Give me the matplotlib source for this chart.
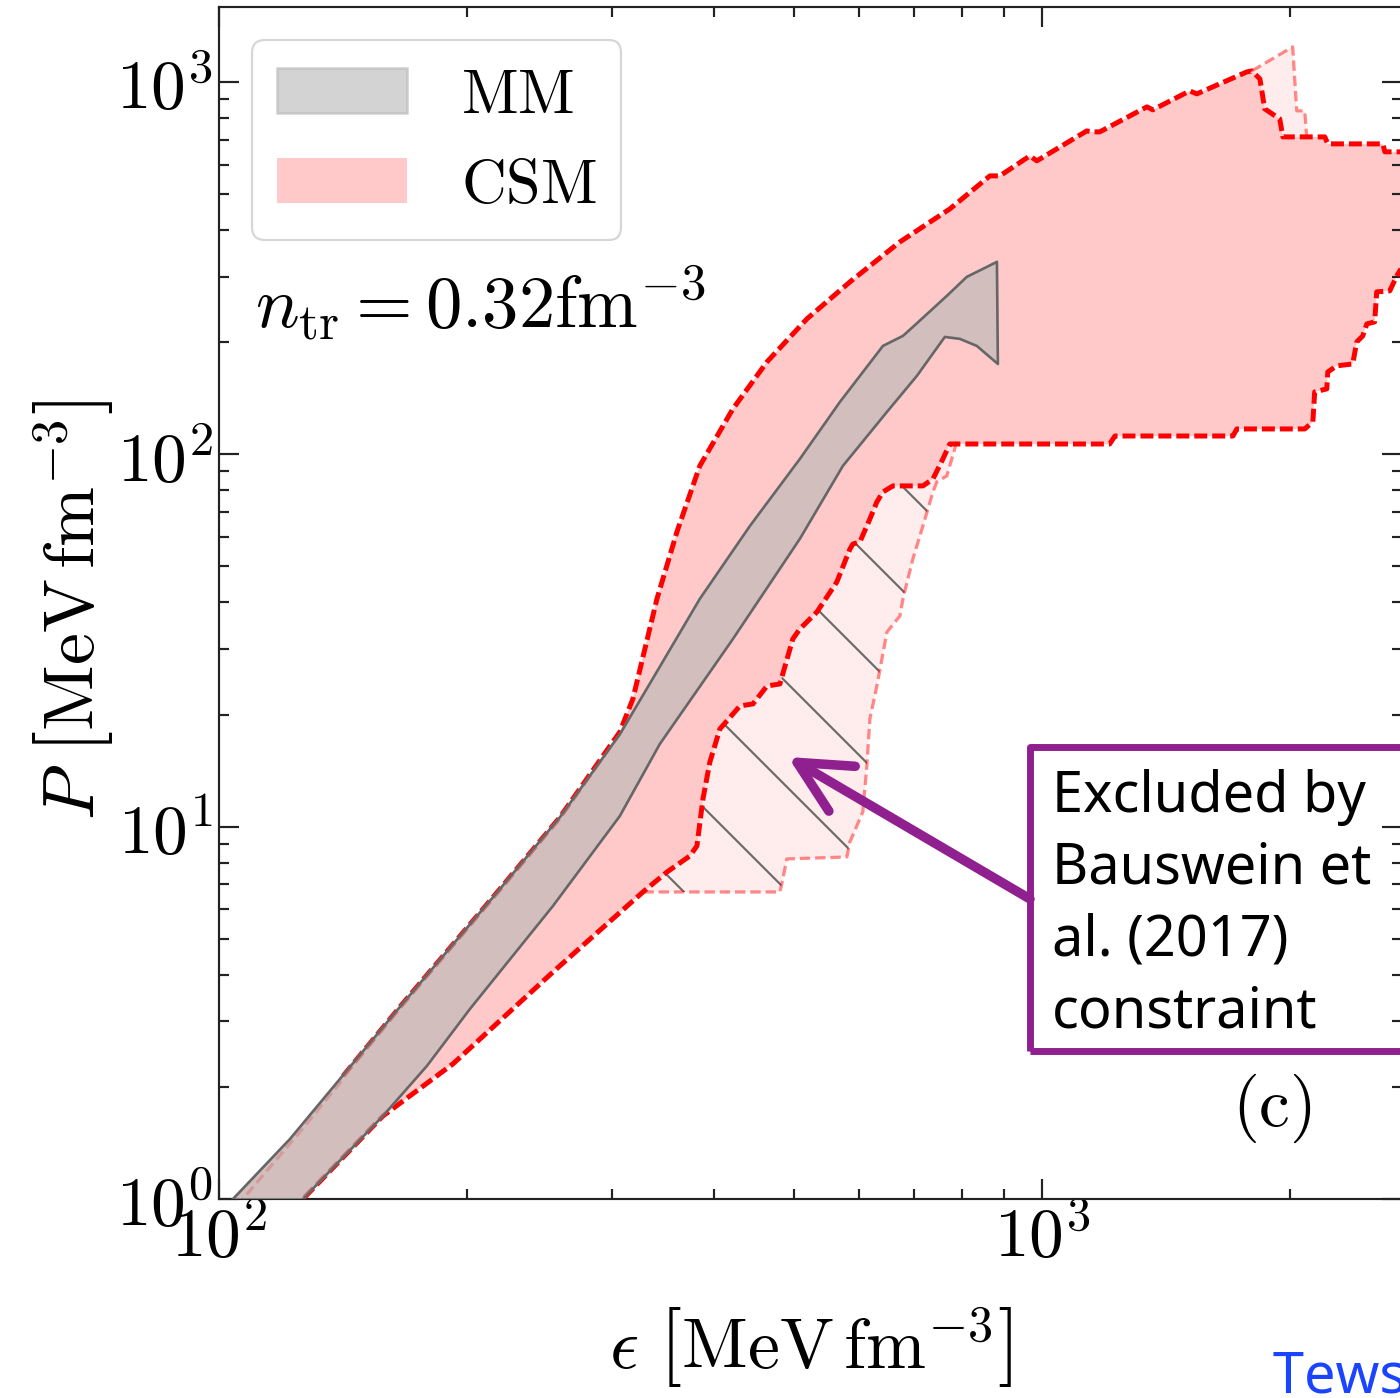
import numpy as np
import matplotlib
matplotlib.use("Agg")
import matplotlib.pyplot as plt
from matplotlib.patches import Polygon, Rectangle, FancyArrowPatch, ArrowStyle
from matplotlib.ticker import LogLocator, FuncFormatter, NullFormatter
from matplotlib.mathtext import MathTextParser

# ---------------------------------------------------------------- data
# MM band (energy density eps [MeV fm^-3], pressure P [MeV fm^-3])
mm_upper_eps = [101.0, 104.0, 122.0, 165.9, 219.5, 259.6, 307.0, 343.4, 384.0, 441.8,
                508.1, 568.3, 641.1, 678.0, 697.2, 766.6, 810.6, 881.9]
mm_upper_P = [0.93, 1.0, 1.45, 3.28, 6.80, 10.6, 17.7, 26.9, 40.9, 64.2,
              97.2, 138.2, 195.5, 208.0, 219.9, 266.4, 299.6, 328.7]
mm_lower_eps = [122.7, 126.5, 158.2, 178.9, 201.8, 254.6, 307.0, 343.4, 421.2, 508.1,
                573.1, 648.3, 704.9, 762.3, 795.1, 833.7, 884.3]
mm_lower_P = [0.93, 1.0, 1.671, 2.276, 3.238, 6.124, 10.68, 16.68, 31.9, 59.3,
              93.1, 130.0, 162.4, 206.7, 204.2, 195.5, 174.9]

# CSM band, upper envelope
csm_upper_eps = [101.0, 104.0, 122.0, 141.5, 165.9, 219.5, 259.6, 307.0, 318.4, 340.6,
                 360.2, 384.0, 421.2, 463.4, 518.2, 584.5, 672.3, 773.0, 864.8, 889.3,
                 967.0, 986.1, 1134, 1153, 1176, 1342, 1364, 1513, 1543, 1775,
                 1800, 1841, 1866, 1946, 1963, 2208, 2226, 2597, 2612, 2880]
csm_upper_P = [0.93, 1.0, 1.45, 2.14, 3.28, 6.80, 10.6, 17.96, 22.03, 40.9,
               61.9, 93.1, 132.4, 177.1, 231.1, 290.4, 372.0, 456.1, 559.6, 559.6,
               633.1, 614.0, 738.9, 734.5, 734.5, 857.5, 841.8, 946.4, 929.0, 1064.4,
               1071, 1019, 846.9, 796.0, 712.1, 712.1, 682.0, 682.0, 649.2, 649.2]
# CSM band, lower envelope
csm_lower_eps = [122.7, 126.5, 158.2, 192.4, 254.6, 327.5, 350.3, 373.5, 380.9, 387.4,
                 395.0, 406.2, 429.7, 445.6, 463.4, 480.5, 498.2, 508.1, 533.0, 563.5,
                 584.5, 589.4, 601.0, 618.1, 630.3, 641.1, 659.2, 717.0, 737.4, 758.2,
                 773.0, 1209, 1227, 1707, 1726, 2087, 2135, 2146, 2220, 2226,
                 2282, 2387, 2414, 2455, 2483, 2538, 2553, 2648, 2700, 2723, 2880]
csm_lower_P = [0.93, 1.0, 1.671, 2.305, 4.07, 6.676, 7.555, 8.344, 8.875, 11.87,
               14.92, 18.30, 21.10, 21.36, 23.87, 24.17, 31.93, 33.96, 37.73, 45.42,
               55.69, 57.44, 58.16, 67.06, 74.50, 79.25, 82.26, 82.26, 85.89, 97.19,
               106.6, 106.6, 112.0, 112.0, 117.0, 117.0, 122.2, 147.1, 149.9, 166.4,
               172.8, 174.9, 200.4, 208.0, 224.0, 226.8, 273.1, 274.8, 301.4, 310.9, 378.9]
# original CSM upper edge at low density
csm_orig_eps = [105.6, 106.9, 125.4, 141.5]
csm_orig_P = [0.95, 1.0, 1.514, 2.10]

# region excluded by the Bauswein et al. (2017) bound (outer edge, top -> bottom)
excl_eps = [788.3, 766.6, 745.5, 737.4, 717.0, 697.2, 678.0, 672.3, 648.3, 630.3,
            618.1, 612.9, 606.0, 601.0, 584.5, 579.6, 489.9, 484.5, 480.5, 327.5]
excl_P = [108.0, 87.5, 84.3, 79.25, 64.2, 52.4, 40.9, 36.8, 33.3, 23.87,
          19.47, 14.56, 10.95, 10.49, 9.10, 8.29, 8.19, 7.236, 6.676, 6.676]
# small excluded piece at high density (outer edge)
excl2_eps = [1800, 2018, 2041, 2087, 2099]
excl2_P = [1071, 1243, 836.6, 836.6, 712.1]

box_lines = ["Excluded by", "Bauswein et", "al. (2017)", "constraint"]

# ---------------------------------------------------------------- style
plt.rcParams['mathtext.fontset'] = 'cm'
plt.rcParams['font.family'] = ['DejaVu Serif']
plt.rcParams['hatch.linewidth'] = 0.5

DPI = 312
W, H = 1400, 1399
fig = plt.figure(figsize=(W / DPI, H / DPI), dpi=DPI)
ax = fig.add_axes([219 / W, 1 - 1200 / H, (1402 - 219) / W, (1200 - 8) / H])
ax.set_xscale('log')
ax.set_yscale('log')
ax.set_xlim(100, 2740)
ax.set_ylim(1, 1590)

RED = '#ff0000'
LIGHT_RED = (1.0, 0.0, 0.0, 0.45)
GRAY_LINE = '#666666'
HATCH_GRAY = '#6a6a6a'

# CSM band
cu = np.column_stack([csm_upper_eps, csm_upper_P])
cl = np.column_stack([csm_lower_eps, csm_lower_P])
csm_poly = Polygon(np.vstack([cu, cl[::-1]]), closed=True, facecolor='red',
                   alpha=0.21, edgecolor='none', zorder=1, label=r'$\rm CSM$')
ax.add_patch(csm_poly)

# excluded regions
le = np.array(csm_lower_eps)
inner1 = cl[(le >= excl_eps[-1]) & (le <= 773.0)]
ex1 = np.vstack([inner1, np.column_stack([excl_eps, excl_P])])
ue = np.array(csm_upper_eps)
inner2 = cu[(ue >= excl2_eps[0]) & (ue <= 1963)]
ex2 = np.vstack([np.column_stack([excl2_eps, excl2_P]), inner2[::-1]])
for pts in (ex1, ex2):
    ax.add_patch(Polygon(pts, closed=True, facecolor='red', alpha=0.075,
                         edgecolor='none', zorder=1.1))
    ax.add_patch(Polygon(pts, closed=True, facecolor='none', edgecolor=HATCH_GRAY,
                         hatch='\\', lw=0, zorder=1.2))

# dashed envelopes
ax.plot(excl_eps, excl_P, color=LIGHT_RED, lw=0.75, dashes=(3.2, 1.5), zorder=2.5)
ax.plot(excl2_eps, excl2_P, color=LIGHT_RED, lw=0.75, dashes=(3.2, 1.5), zorder=2.5)
ax.plot(csm_orig_eps, csm_orig_P, color=LIGHT_RED, lw=0.75, dashes=(3.2, 1.5), zorder=2.5)
ax.plot(csm_upper_eps[3:], csm_upper_P[3:], color=RED, lw=1.15, dashes=(2.6, 1.0), zorder=3)
ax.plot(csm_lower_eps, csm_lower_P, color=RED, lw=1.15, dashes=(2.6, 1.0), zorder=3)

# MM band
mu = np.column_stack([mm_upper_eps, mm_upper_P])
ml = np.column_stack([mm_lower_eps, mm_lower_P])
mm_poly = Polygon(np.vstack([mu, ml[::-1]]), closed=True, facecolor='#b8b8b8',
                  edgecolor='#b8b8b8', lw=0.6, alpha=0.62, zorder=4, label=r'$\rm MM$')
ax.add_patch(mm_poly)
mm_outline = np.vstack([mu, ml[::-1]])[:-1]
ax.plot(mm_outline[:, 0], mm_outline[:, 1], color=GRAY_LINE, lw=0.6, zorder=5,
        solid_joinstyle='round')

# ---------------------------------------------------------------- axes
for s in ax.spines.values():
    s.set_linewidth(0.5)
    s.set_color('#222222')
ax.xaxis.set_major_locator(LogLocator(base=10))
ax.yaxis.set_major_locator(LogLocator(base=10))
ax.xaxis.set_minor_locator(LogLocator(base=10, subs=np.arange(2, 10)))
ax.yaxis.set_minor_locator(LogLocator(base=10, subs=np.arange(2, 10)))
dec = FuncFormatter(lambda v, pos: r'$10^{%d}$' % int(round(np.log10(v))))
ax.xaxis.set_major_formatter(dec)
ax.yaxis.set_major_formatter(dec)
ax.xaxis.set_minor_formatter(NullFormatter())
ax.yaxis.set_minor_formatter(NullFormatter())
ax.tick_params(which='both', direction='in', top=True, right=True, color='#222222')
ax.tick_params(which='major', length=4.6, width=0.5, labelsize=16)
ax.tick_params(which='minor', length=2.3, width=0.5)
ax.tick_params(axis='x', which='major', pad=1.0)
ax.tick_params(axis='y', which='major', pad=1.4)


def unit_label(sym):
    tall = r'$%s\ \left[\mathrm{MeV\,fm}^{-3}_{\,}\right]$' % sym
    plain = r'$%s\ \left[\mathrm{MeV\,fm}^{-3}\right]$' % sym
    try:
        MathTextParser('path').parse(tall, dpi=72)
        return tall
    except Exception:
        return plain


ax.set_xlabel(unit_label(r'\epsilon'), fontsize=16.6)
ax.set_ylabel(unit_label('P'), fontsize=16.6)
ax.xaxis.set_label_coords(0.5, -0.088)
ax.yaxis.set_label_coords(-0.0880, 0.495)

leg = ax.legend(handles=[mm_poly, csm_poly], loc='upper left', fontsize=14.3,
                handlelength=2.10, handleheight=0.73, handletextpad=0.86,
                borderpad=0.40, labelspacing=0.48, borderaxespad=0.54,
                fancybox=True, framealpha=0.8, edgecolor='0.8')
leg.get_frame().set_linewidth(0.5)

fig.text(255 / W, 1 - 327 / H, r'$n_{\rm tr} = 0.32{\rm fm}^{-3}$', fontsize=16.8,
         ha='left', va='baseline')
fig.text(1272 / W, 1 - 1108 / H, r'$\rm (c)$', fontsize=16, ha='center', va='center')

# ---------------------------------------------------------------- annotation
PURPLE = '#90208f'
fig.patches.append(Rectangle((1030 / W, 1 - 1052 / H), (1480 - 1030) / W, (1052 - 748) / H,
                             transform=fig.transFigure, facecolor='none', edgecolor=PURPLE,
                             lw=1.6, joinstyle='round', zorder=10))
for i, line in enumerate(box_lines):
    fig.text(1052 / W, 1 - (812 + 72 * i) / H, line, fontsize=12.9,
             family=['Noto Sans', 'DejaVu Sans'], ha='left', va='baseline', color='black')
arrow = FancyArrowPatch((1030 / W, 1 - 900 / H), (788 / W, 1 - 758 / H),
                        transform=fig.transFigure,
                        arrowstyle=ArrowStyle('->', head_length=12, head_width=6),
                        mutation_scale=1, lw=2.2, color=PURPLE, capstyle='round',
                        joinstyle='round', shrinkA=0, shrinkB=0, zorder=11)
fig.patches.append(arrow)

fig.text(1273 / W, 1 - 1393 / H, 'Tews et al.', fontsize=12.9, color='#1a44ff',
         family=['Noto Sans', 'DejaVu Sans'], ha='left', va='baseline')

fig.savefig('out.png', dpi=DPI)
